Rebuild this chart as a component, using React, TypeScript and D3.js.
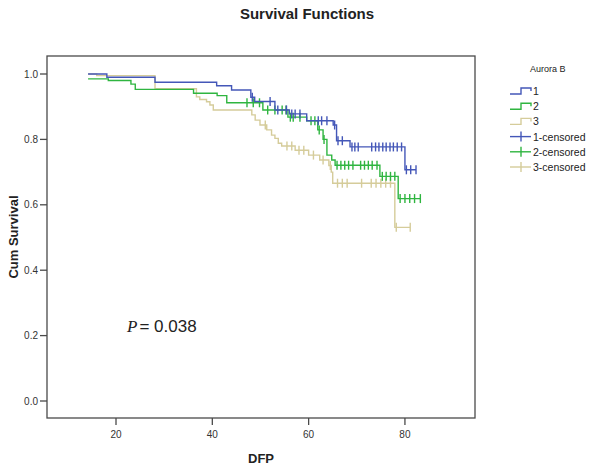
import React from "react";
import * as d3 from "d3";

// Survival step data: [time, cumulative survival] at each event
const steps1: [number, number][] = [
  [14.2, 1.0], [18.1, 0.99], [28.1, 0.975], [40.9, 0.964], [44.0, 0.951],
  [48.0, 0.929], [48.8, 0.916], [53.0, 0.89], [56.0, 0.878], [59.6, 0.857],
  [65.1, 0.844], [65.8, 0.796], [68.6, 0.777], [80.0, 0.707],
];
const censor1: number[] = [
  48.3, 52.0, 53.6, 55.4, 56.5, 57.2, 58.2, 62.0, 62.7, 63.8, 65.4, 66.1, 67.0,
  69.0, 69.6, 70.3, 73.1, 73.9, 74.6, 75.4, 76.1, 76.9, 77.6, 78.4, 79.3, 80.3,
  81.2, 82.3,
];

const steps2: [number, number][] = [
  [14.2, 0.985], [18.4, 0.98], [23.1, 0.969], [24.0, 0.953], [36.1, 0.941],
  [41.0, 0.934], [43.0, 0.912], [50.5, 0.89], [55.7, 0.868], [59.6, 0.857],
  [61.9, 0.829], [63.0, 0.8], [63.8, 0.752], [64.8, 0.737], [65.5, 0.721],
  [74.8, 0.687], [78.6, 0.619],
];
const censor2: number[] = [
  47.2, 48.5, 49.8, 51.5, 53.0, 54.5, 55.3, 56.2, 56.8, 58.2, 60.5, 61.3, 62.2,
  63.2, 65.9, 66.7, 67.5, 68.3, 69.2, 70.8, 71.6, 72.4, 73.2, 74.2, 75.3, 76.1,
  77.0, 77.9, 79.0, 80.0, 81.0, 82.0, 83.2,
];

const steps3: [number, number][] = [
  [14.2, 1.0], [16.0, 0.995], [28.1, 0.955], [36.7, 0.93], [37.4, 0.922],
  [38.8, 0.915], [39.5, 0.905], [40.2, 0.89], [48.2, 0.875], [48.9, 0.859],
  [49.9, 0.844], [51.3, 0.829], [52.3, 0.813], [53.0, 0.803], [53.7, 0.788],
  [54.4, 0.78], [57.2, 0.767], [60.0, 0.752], [62.3, 0.737], [64.2, 0.72],
  [64.7, 0.7], [65.0, 0.666], [77.9, 0.531],
];
const censor3: number[] = [
  51.0, 55.5, 56.5, 58.0, 59.0, 61.0, 63.0, 64.5, 66.0, 67.0, 68.0, 71.0, 73.0,
  74.0, 75.0, 76.0, 77.0, 78.2, 81.1,
];

const groupNames = ["1", "2", "3"];
const legendLabels = ["1", "2", "3", "1-censored", "2-censored", "3-censored"];
const xTicks = [20, 40, 60, 80];
const yTicks = [0, 0.2, 0.4, 0.6, 0.8, 1.0];
const colors = ["#4457b8", "#2fb540", "#d5cc9a"];

const W = 600;
const H = 471;
const frame = { left: 47, right: 475, top: 56, bottom: 418 };

export default function App() {
  const x = d3.scaleLinear().domain([5.67, 94.55]).range([frame.left, frame.right]);
  const y = d3.scaleLinear().domain([0, 1]).range([401, 74]);

  const groups = [
    { steps: steps1, censor: censor1 },
    { steps: steps2, censor: censor2 },
    { steps: steps3, censor: censor3 },
  ];

  const survAt = (steps: [number, number][], t: number) => {
    let s = steps[0][1];
    for (const [ti, si] of steps) if (ti <= t) s = si;
    return s;
  };

  const line = d3
    .line<[number, number]>()
    .x((d) => x(d[0]))
    .y((d) => y(d[1]))
    .curve(d3.curveStepAfter);

  const axisColor = "#4a4a4a";

  return (
    <svg
      width={W}
      height={H}
      style={{ position: "absolute", left: 0, top: 0, background: "#fff" }}
      fontFamily="Liberation Sans, Arial, sans-serif"
    >
      <rect x={0} y={0} width={W} height={H} fill="#fff" />
      <text x={307} y={19} textAnchor="middle" fontSize={15} fontWeight="bold" fill="#222">
        Survival Functions
      </text>

      {/* frame */}
      <rect
        x={frame.left}
        y={frame.top}
        width={frame.right - frame.left}
        height={frame.bottom - frame.top}
        fill="none"
        stroke={axisColor}
        strokeWidth={1.3}
      />

      {/* y axis */}
      {yTicks.map((t) => (
        <g key={"y" + t}>
          <line x1={frame.left - 7} x2={frame.left} y1={y(t)} y2={y(t)} stroke={axisColor} strokeWidth={1.3} />
          <text x={frame.left - 9} y={y(t) + 3.5} textAnchor="end" fontSize={10} fill="#333">
            {t.toFixed(1)}
          </text>
        </g>
      ))}
      {/* x axis */}
      {xTicks.map((t) => (
        <g key={"x" + t}>
          <line x1={x(t)} x2={x(t)} y1={frame.bottom} y2={frame.bottom + 7} stroke={axisColor} strokeWidth={1.3} />
          <text x={x(t)} y={frame.bottom + 20} textAnchor="middle" fontSize={10} fill="#333">
            {t}
          </text>
        </g>
      ))}

      <text
        transform={`translate(18,237) rotate(-90)`}
        textAnchor="middle"
        fontSize={13}
        fontWeight="bold"
        fill="#222"
      >
        Cum Survival
      </text>
      <text x={261} y={463} textAnchor="middle" fontSize={13} fontWeight="bold" fill="#222">
        DFP
      </text>

      {/* curves */}
      {groups.map((g, i) => {
        const lastT = Math.max(g.censor[g.censor.length - 1], g.steps[g.steps.length - 1][0]);
        const pts: [number, number][] = [...g.steps, [lastT, g.steps[g.steps.length - 1][1]]];
        return (
          <g key={"g" + i}>
            <path d={line(pts) || ""} fill="none" stroke={colors[i]} strokeWidth={1.4} />
            {g.censor.map((c, j) => {
              const s = survAt(g.steps, c);
              return (
                <line
                  key={j}
                  x1={x(c)}
                  x2={x(c)}
                  y1={y(s) - 4.5}
                  y2={y(s) + 4.5}
                  stroke={colors[i]}
                  strokeWidth={1.4}
                />
              );
            })}
          </g>
        );
      }).reverse()}

      <text x={127} y={332} fontSize={17} fill="#222">
        <tspan fontFamily="Liberation Serif, Times New Roman, serif" fontStyle="italic">P</tspan>
        <tspan dx={2}>= 0.038</tspan>
      </text>

      {/* legend */}
      <text x={530} y={72} fontSize={9} fill="#222">Aurora B</text>
      {legendLabels.map((lab, i) => {
        const cy = 91 + i * 15.2;
        const c = colors[i % 3];
        const lx = 510;
        return (
          <g key={"l" + i}>
            {i < 3 ? (
              <path
                d={`M${lx},${cy + 3}H${lx + 11}V${cy - 3}H${lx + 21}V${cy}`}
                fill="none"
                stroke={c}
                strokeWidth={1.4}
              />
            ) : (
              <g>
                <line x1={lx} x2={lx + 21} y1={cy} y2={cy} stroke={c} strokeWidth={1.4} />
                <line x1={lx + 11} x2={lx + 11} y1={cy - 5} y2={cy + 5} stroke={c} strokeWidth={1.4} />
              </g>
            )}
            <text x={lx + 23} y={cy + 4} fontSize={10.5} fill="#222">
              {groupNames[i] && i < 3 ? groupNames[i] : lab}
            </text>
          </g>
        );
      })}
    </svg>
  );
}
